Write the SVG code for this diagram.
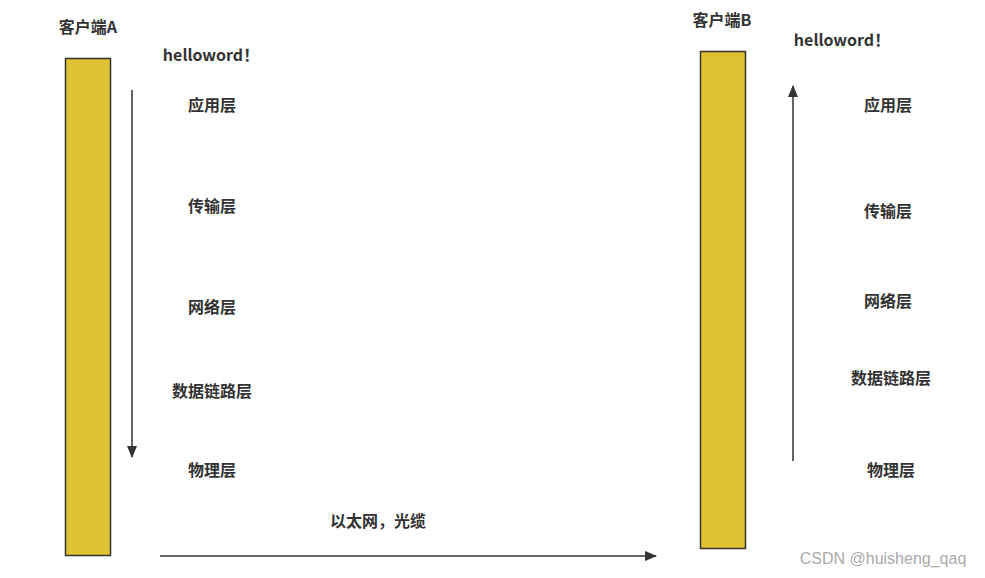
<svg xmlns="http://www.w3.org/2000/svg" width="985" height="578" viewBox="0 0 985 578">
<style>
.t{font-family:"Noto Sans CJK SC","Liberation Sans",sans-serif;font-size:16px;font-weight:bold;fill:#333;text-anchor:middle;dominant-baseline:central}
.box{fill:#dfc232;stroke:#333;stroke-width:1.5}
.ln{stroke:#333;stroke-width:1.5;fill:none}
</style>
<defs>
<marker id="ah" viewBox="0 0 12 10" refX="11" refY="5" markerWidth="12" markerHeight="10" markerUnits="userSpaceOnUse" orient="auto">
<path d="M0,0 L12,5 L0,10 z" fill="#333"/>
</marker>
</defs>
<rect width="985" height="578" fill="#fff"/>
<g id="clientA">
<rect class="box" x="65.5" y="58.5" width="45" height="497"/>
<text class="t" x="88" y="26">客户端A</text>
</g>
<g id="clientB">
<rect class="box" x="700.5" y="51.5" width="45" height="497"/>
<text class="t" x="722" y="19">客户端B</text>
</g>
<g id="labelsA">
<text class="t" x="211" y="54">helloword！</text>
<text class="t" x="212" y="104">应用层</text>
<text class="t" x="212" y="205">传输层</text>
<text class="t" x="212" y="306">网络层</text>
<text class="t" x="212" y="390">数据链路层</text>
<text class="t" x="212" y="469">物理层</text>
</g>
<g id="labelsB">
<text class="t" x="842" y="39">helloword！</text>
<text class="t" x="888" y="104">应用层</text>
<text class="t" x="888" y="210">传输层</text>
<text class="t" x="888" y="300">网络层</text>
<text class="t" x="891" y="377">数据链路层</text>
<text class="t" x="891" y="469">物理层</text>
</g>
<g id="medium">
<text class="t" x="378" y="520">以太网，光缆</text>
</g>
<g id="connectors">
<line class="ln" x1="132" y1="90" x2="132" y2="457" marker-end="url(#ah)"/>
<line class="ln" x1="793" y1="461" x2="793" y2="86" marker-end="url(#ah)"/>
<line class="ln" x1="160" y1="556" x2="656" y2="556" marker-end="url(#ah)"/>
</g>
<text x="883" y="558" font-family="Liberation Sans, sans-serif" font-size="16" fill="#aaa" text-anchor="middle" dominant-baseline="central">CSDN @huisheng_qaq</text>
</svg>
